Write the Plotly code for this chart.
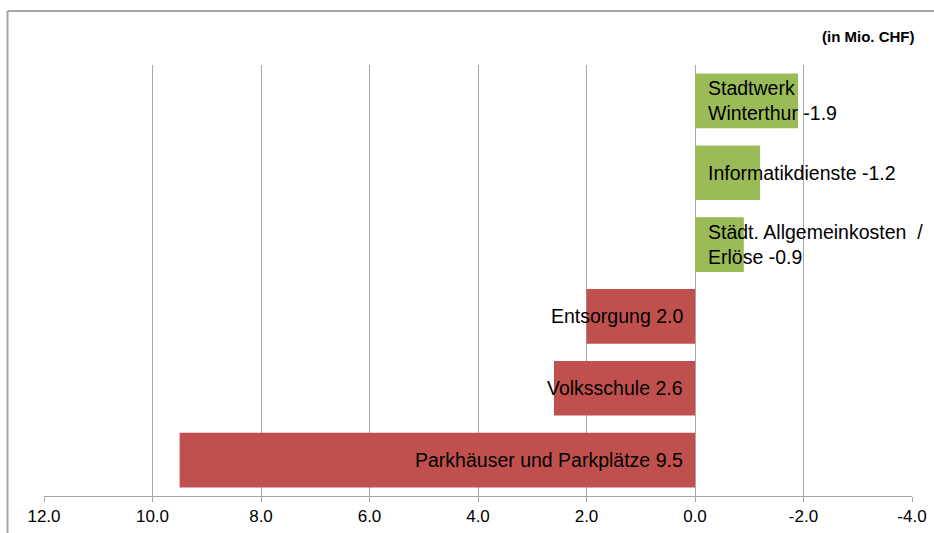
import plotly.graph_objects as go

categories = ["Stadtwerk<br>Winterthur", "Informatikdienste", "Städt. Allgemeinkosten  /<br>Erlöse",
              "Entsorgung", "Volksschule", "Parkhäuser und Parkplätze"]
values = [-1.9, -1.2, -0.9, 2.0, 2.6, 9.5]
tick_vals = [12, 10, 8, 6, 4, 2, 0, -2, -4]
tick_text = ["12.0", "10.0", "8.0", "6.0", "4.0", "2.0", "0.0", "-2.0", "-4.0"]

RED = "#C0504D"
GREEN = "#9BBB59"
GRID = "#A6A6A6"
FONT = "Arial, Liberation Sans, sans-serif"

colors = [GREEN if v < 0 else RED for v in values]

fig = go.Figure()
fig.add_trace(go.Bar(
    y=categories, x=values, orientation="h",
    marker=dict(color=colors, line=dict(width=0)),
    hoverinfo="skip", showlegend=False,
))

for cat, v in zip(categories, values):
    label = f"{cat} {v:.1f}"
    fig.add_annotation(
        x=0, y=cat, xref="x", yref="y", text=label, showarrow=False,
        xanchor="left" if v < 0 else "right",
        xshift=11 if v < 0 else -10,
        align="left",
        font=dict(family=FONT, size=19.5, color="#000000"),
    )

fig.add_annotation(
    x=1, y=1, xref="paper", yref="paper", xanchor="right", yanchor="bottom",
    text="<b>(in Mio. CHF)</b>", showarrow=False, yshift=18, xshift=4,
    font=dict(family=FONT, size=15, color="#000000"),
)

# chart frame (left and top edges visible)
H = 533 - 65 - 37
W = 934 - 44 - 22
fig.add_shape(type="line", xref="paper", yref="paper",
              x0=(7.5 - 44) / W, x1=1.2, y0=1 + (65 - 11) / H, y1=1 + (65 - 11) / H,
              line=dict(color=GRID, width=2))
fig.add_shape(type="line", xref="paper", yref="paper",
              x0=(7.5 - 44) / W, x1=(7.5 - 44) / W, y0=1 + (65 - 11) / H, y1=-0.2,
              line=dict(color=GRID, width=2))

fig.update_layout(
    width=934, height=533,
    margin=dict(l=44, r=22, t=65, b=37),
    paper_bgcolor="white", plot_bgcolor="white",
    bargap=0.24,
    xaxis=dict(
        range=[12, -4], tickvals=tick_vals, ticktext=tick_text,
        showgrid=True, gridcolor=GRID, gridwidth=1,
        showline=True, linecolor=GRID, linewidth=1,
        ticks="outside", ticklen=5, tickcolor=GRID,
        zeroline=False, automargin=False,
        tickfont=dict(family=FONT, size=17, color="#000000"),
    ),
    yaxis=dict(
        autorange="reversed", showticklabels=False, showgrid=False,
        showline=False, zeroline=False, ticks="", automargin=False,
    ),
)

fig.write_html("out.html")
